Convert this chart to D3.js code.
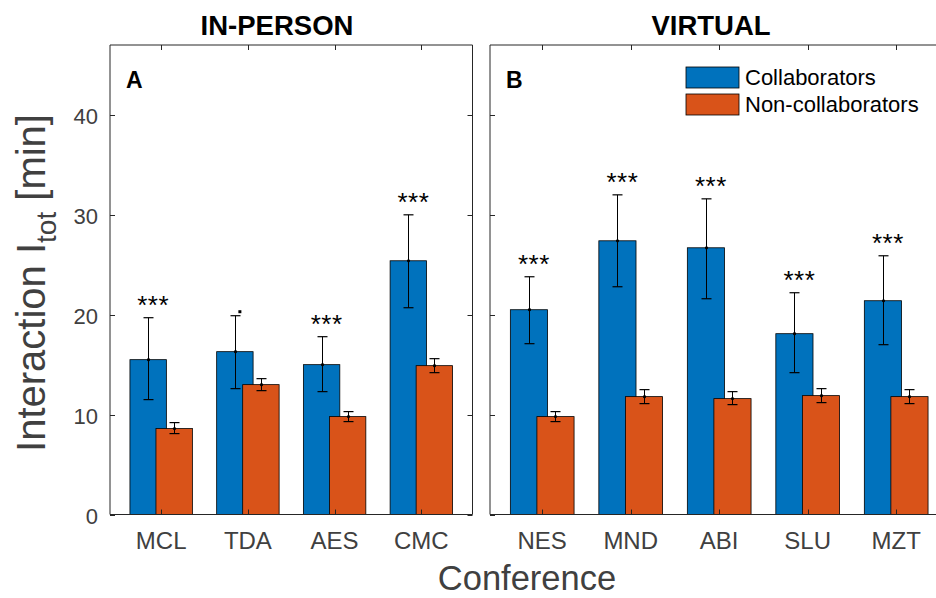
<!DOCTYPE html>
<html><head><meta charset="utf-8">
<script src="https://cdn.jsdelivr.net/npm/d3@7"></script>
<style>
body{margin:0;background:#fff;}
text{font-family:"Liberation Sans",Arial,Helvetica,sans-serif;}
</style></head>
<body><svg id="c" width="936" height="598"></svg>
<script>
// ---- data ----
const inPersonCats = ["MCL","TDA","AES","CMC"];
const inPersonCollab = [15.5, 16.3, 15.0, 25.4];
const inPersonCollabLo = [11.5, 12.6, 12.3, 20.7];
const inPersonCollabHi = [19.7, 19.9, 17.8, 30.0];
const inPersonNon = [8.6, 13.0, 9.8, 14.9];
const inPersonNonLo = [8.1, 12.4, 9.3, 14.2];
const inPersonNonHi = [9.2, 13.6, 10.3, 15.6];
const inPersonSig = ["***", ".", "***", "***"];

const virtualCats = ["NES","MND","ABI","SLU","MZT"];
const virtualCollab = [20.5, 27.4, 26.7, 18.1, 21.4];
const virtualCollabLo = [17.1, 22.8, 21.6, 14.2, 17.0];
const virtualCollabHi = [23.8, 32.0, 31.6, 22.2, 25.9];
const virtualNon = [9.8, 11.8, 11.6, 11.9, 11.8];
const virtualNonLo = [9.3, 11.1, 11.0, 11.2, 11.1];
const virtualNonHi = [10.3, 12.5, 12.3, 12.6, 12.5];
const virtualSig = ["***", "***", "***", "***", "***"];

const yTicks = [0, 10, 20, 30, 40];
const seriesNames = ["Collaborators", "Non-collaborators"];
const colors = ["#0072BD", "#D95319"];

// ---- layout ----
const svg = d3.select("#c");
const plotTop = 45, plotBottom = 514.5;
const y = d3.scaleLinear().domain([0, 47]).range([plotBottom, plotTop]);
const axisColor = "#262626", labelColor = "#404040";

function panel(cats, c, cLo, cHi, n, nLo, nHi, sig, x0, x1, dMax, title, titleX, letter, showY) {
  const x = d3.scaleLinear().domain([0.41, dMax]).range([x0, x1]);
  const pxPerUnit = x(1) - x(0);
  const off = 0.15, bw = 0.42 * pxPerUnit;
  const g = svg.append("g");
  const idx = cats.map((d, i) => i + 1);
  g.selectAll(".cb").data(idx).enter().append("rect")
    .attr("x", i => x(i - off) - bw / 2).attr("width", bw)
    .attr("y", i => y(c[i - 1])).attr("height", i => y(0) - y(c[i - 1]))
    .attr("fill", colors[0]).attr("stroke", "#000").attr("stroke-width", 0.8);
  g.selectAll(".nb").data(idx).enter().append("rect")
    .attr("x", i => x(i + off) - bw / 2).attr("width", bw)
    .attr("y", i => y(n[i - 1])).attr("height", i => y(0) - y(n[i - 1]))
    .attr("fill", colors[1]).attr("stroke", "#000").attr("stroke-width", 0.8);
  function errs(vals, lo, hi, shift) {
    idx.forEach(i => {
      const cx = Math.round(x(i + shift)) + 0.5;
      const yl = y(lo[i - 1]), yh = y(hi[i - 1]);
      g.append("line").attr("x1", cx).attr("x2", cx).attr("y1", yl).attr("y2", yh).attr("stroke", "#000").attr("stroke-width", 1);
      [yl, yh].forEach(yy => g.append("line").attr("x1", cx - 5).attr("x2", cx + 5).attr("y1", yy).attr("y2", yy).attr("stroke", "#000").attr("stroke-width", 1.2));
      g.append("circle").attr("cx", cx).attr("cy", y(vals[i - 1])).attr("r", 1.6).attr("fill", "#000");
    });
  }
  errs(c, cLo, cHi, -off);
  errs(n, nLo, nHi, off);
  idx.forEach(i => {
    const s = sig[i - 1];
    const cx = x(i - off) + 5;
    const yy = y(cHi[i - 1]);
    if (s === ".") {
      g.append("rect").attr("x", cx - 1.5).attr("y", yy - 5.5).attr("width", 3).attr("height", 3).attr("fill", "#000");
    } else {
      g.append("text").attr("x", cx).attr("y", yy - 4).attr("text-anchor", "middle")
        .attr("font-size", 26).attr("letter-spacing", 0.5).attr("fill", "#000").text(s);
    }
  });
  g.append("line").attr("x1", x0).attr("x2", x1).attr("y1", plotBottom).attr("y2", plotBottom).attr("stroke", axisColor);
  g.append("line").attr("x1", x0).attr("x2", x1).attr("y1", plotTop).attr("y2", plotTop).attr("stroke", axisColor);
  g.append("line").attr("x1", x0).attr("x2", x0).attr("y1", plotTop).attr("y2", plotBottom).attr("stroke", axisColor);
  g.append("line").attr("x1", x1).attr("x2", x1).attr("y1", plotTop).attr("y2", plotBottom).attr("stroke", axisColor);
  idx.forEach(i => {
    const cx = Math.round(x(i)) + 0.5;
    g.append("line").attr("x1", cx).attr("x2", cx).attr("y1", plotBottom).attr("y2", plotBottom - 5).attr("stroke", axisColor);
    g.append("line").attr("x1", cx).attr("x2", cx).attr("y1", plotTop).attr("y2", plotTop + 5).attr("stroke", axisColor);
    g.append("text").attr("x", x(i)).attr("y", 549).attr("text-anchor", "middle")
      .attr("font-size", 24).attr("fill", labelColor).text(cats[i - 1]);
  });
  yTicks.forEach(t => {
    const yy = Math.round(y(t)) + 0.5;
    g.append("line").attr("x1", x0).attr("x2", x0 + 5).attr("y1", yy).attr("y2", yy).attr("stroke", axisColor);
    g.append("line").attr("x1", x1).attr("x2", x1 - 5).attr("y1", yy).attr("y2", yy).attr("stroke", axisColor);
    if (showY) g.append("text").attr("x", x0 - 12).attr("y", yy + 8).attr("text-anchor", "end")
      .attr("font-size", 22).attr("fill", labelColor).text(t);
  });
  g.append("text").attr("x", titleX).attr("y", 35).attr("text-anchor", "middle")
    .attr("font-size", 27.5).attr("font-weight", "bold").attr("fill", "#000").text(title);
  g.append("text").attr("x", x0 + 16).attr("y", 88).attr("font-size", 23).attr("font-weight", "bold")
    .attr("fill", "#000").text(letter);
}

panel(inPersonCats, inPersonCollab, inPersonCollabLo, inPersonCollabHi, inPersonNon, inPersonNonLo, inPersonNonHi,
  inPersonSig, 110, 472.5, 4.59, "IN-PERSON", 277, "A", true);
panel(virtualCats, virtualCollab, virtualCollabLo, virtualCollabHi, virtualNon, virtualNonLo, virtualNonHi,
  virtualSig, 490, 948.4, 5.59, "VIRTUAL", 711, "B", false);

const leg = svg.append("g");
seriesNames.forEach((s, i) => {
  const yy = 67 + i * 27;
  leg.append("rect").attr("x", 686).attr("y", yy).attr("width", 53).attr("height", 21)
    .attr("fill", colors[i]).attr("stroke", "#000").attr("stroke-width", 0.8);
  leg.append("text").attr("x", 745).attr("y", yy + 18).attr("font-size", 22).attr("fill", "#000").text(s);
});

const yl = svg.append("text").attr("transform", "translate(45,283) rotate(-90)").attr("text-anchor", "middle")
  .attr("font-size", 40).attr("fill", labelColor);
yl.append("tspan").text("Interaction I");
yl.append("tspan").attr("font-size", 28).attr("dy", 11).text("tot");
yl.append("tspan").attr("dy", -11).text(" [min]");
svg.append("text").attr("x", 527).attr("y", 590).attr("text-anchor", "middle")
  .attr("font-size", 34.5).attr("fill", labelColor).text("Conference");
</script></body></html>
